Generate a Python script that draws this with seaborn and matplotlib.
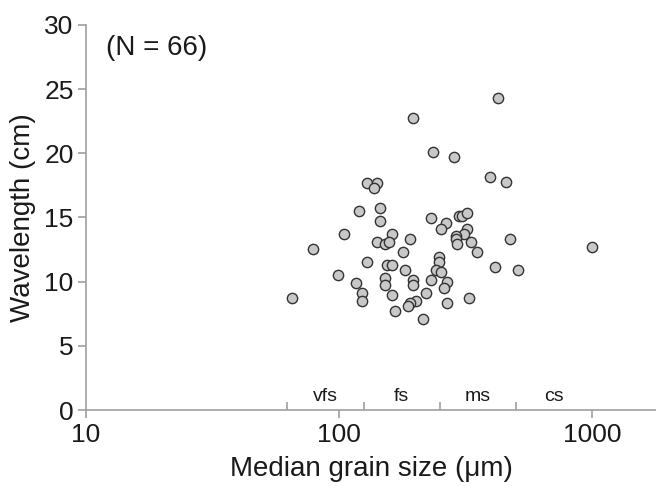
import numpy as np
import pandas as pd
import seaborn as sns
import matplotlib
matplotlib.use("Agg")
import matplotlib.pyplot as plt
from matplotlib.ticker import FixedLocator, NullFormatter
from matplotlib.transforms import blended_transform_factory

# median grain size (um) and wavelength (cm)
grain_size = [196.1, 235.9, 284.8, 128.7, 141.3, 137.9, 424.0, 395.3, 456.0, 352.1,
              475.4, 1002.0, 414.8, 509.9, 120.0, 144.8, 144.8, 231.0, 298.1, 307.3,
              321.5, 265.6, 253.1, 104.4, 162.4, 141.3, 151.6, 158.1, 191.3, 78.7,
              178.6, 319.7, 312.0, 290.8, 290.8, 291.9, 331.0, 128.7, 154.3, 162.4,
              247.8, 247.8, 182.3, 241.7, 253.7, 99.4, 151.6, 151.6, 196.1, 196.1,
              231.0, 266.1, 259.4, 117.1, 122.9, 122.9, 65.4, 162.4, 220.1, 327.3,
              201.0, 191.3, 186.8, 266.1, 166.5, 215.4]
wavelength = [22.73, 20.13, 19.71, 17.71, 17.71, 17.32, 24.34, 18.13, 17.74, 12.34,
              13.32, 12.73, 11.12, 10.93, 15.53, 15.74, 14.73, 14.94, 15.14, 15.14,
              15.33, 14.55, 14.13, 13.71, 13.71, 13.12, 12.91, 13.12, 13.32, 12.52,
              12.31, 14.13, 13.71, 13.54, 13.32, 12.94, 13.12, 11.51, 11.32, 11.32,
              11.92, 11.51, 10.91, 10.91, 10.73, 10.52, 10.31, 9.72, 10.11, 9.72,
              10.11, 9.94, 9.51, 9.92, 9.12, 8.52, 8.73, 8.94, 9.12, 8.73,
              8.52, 8.31, 8.10, 8.32, 7.71, 7.11]

# sand classes (um boundaries)
class_names = ["vfs", "fs", "ms", "cs"]
class_bounds = [62.5, 125, 250, 500, 1000]

df = pd.DataFrame({"grain": grain_size, "wl": wavelength})

sns.set_style("ticks")
plt.rcParams["font.family"] = ["Liberation Sans", "DejaVu Sans"]

fig = plt.figure(figsize=(6.56, 4.86), dpi=100)
ax = fig.add_axes([86 / 656, 76 / 486, 570 / 656, 385 / 486])

sns.scatterplot(data=df, x="grain", y="wl", ax=ax, s=55, color="#c8c8c8",
                edgecolor="#333333", linewidth=1.0, zorder=3, legend=False)

ax.set_xscale("log")
ax.set_xlim(10, 10 ** (1 + 570 / 253))
ax.set_ylim(0, 30)
ax.set_yticks(range(0, 31, 5))
ax.set_xticks([10, 100, 1000])
ax.set_xticklabels(["10", "100", "1000"])
ax.xaxis.set_minor_locator(FixedLocator(class_bounds))
ax.xaxis.set_minor_formatter(NullFormatter())

grey = "#a0a0a0"
for side in ["top", "right"]:
    ax.spines[side].set_visible(False)
for side in ["left", "bottom"]:
    ax.spines[side].set_color(grey)
    ax.spines[side].set_linewidth(1.2)

ax.tick_params(axis="both", which="major", direction="out", length=6, width=1.2,
               color=grey, labelsize=19, pad=3, labelcolor="#1a1a1a")
ax.tick_params(axis="x", which="minor", direction="in", length=6, width=1.2, color=grey)

ax.set_xlabel("Median grain size (μm)", fontsize=20, color="#1a1a1a", labelpad=7)
ax.set_ylabel("Wavelength (cm)", fontsize=20, color="#1a1a1a", labelpad=6)

trans = blended_transform_factory(ax.transData, ax.transAxes)
for name, lo, hi in zip(class_names, class_bounds[:-1], class_bounds[1:]):
    ax.text(np.sqrt(lo * hi), 0.012, name, transform=trans, ha="center", va="bottom",
            fontsize=14, color="#1a1a1a")

ax.text(0.035, 0.94, "(N = 66)", transform=ax.transAxes, ha="left", va="center",
        fontsize=20, color="#1a1a1a")

fig.savefig("out.png", dpi=100)
